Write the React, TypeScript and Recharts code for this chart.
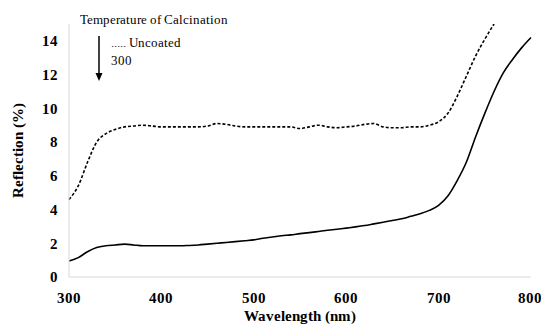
import React from "react";
import { LineChart, Line, XAxis, YAxis, Label } from "recharts";

const wavelengths = [300,310,320,330,340,350,360,370,380,390,400,410,420,430,440,450,460,470,480,490,500,510,520,530,540,550,560,570,580,590,600,610,620,630,640,650,660,670,680,690,700,710,720,730,740,750,760,770,780,790,800];
const uncoated = [4.6,5.4,6.8,8.0,8.5,8.75,8.9,8.95,9.0,8.95,8.9,8.9,8.9,8.9,8.9,8.95,9.1,9.05,8.95,8.9,8.9,8.9,8.9,8.9,8.9,8.8,8.9,9.0,8.9,8.85,8.9,8.95,9.05,9.1,8.9,8.85,8.85,8.9,8.9,9.0,9.2,9.7,10.7,11.9,13.1,14.1,15.0,null,null,null,null];
const calcined300 = [0.95,1.15,1.5,1.75,1.85,1.9,1.95,1.9,1.85,1.85,1.85,1.85,1.85,1.87,1.9,1.95,2.0,2.05,2.1,2.15,2.2,2.3,2.37,2.45,2.5,2.57,2.63,2.7,2.77,2.83,2.9,2.97,3.05,3.15,3.25,3.35,3.45,3.6,3.75,3.95,4.25,4.8,5.7,6.8,8.3,9.7,11.0,12.1,12.9,13.6,14.2];
const xTicks = [300,400,500,600,700,800];
const yTicks = [0,2,4,6,8,10,12,14];

const data = wavelengths.map((w, i) => ({ w, uncoated: uncoated[i], c300: calcined300[i] }));

const FONT = "RefSerif";
const fontCss = `
@font-face{font-family:'RefSerif';src:local('Liberation Serif'),local('LiberationSerif'),local('Times New Roman');font-weight:400;font-display:swap}
@font-face{font-family:'RefSerif';src:local('Liberation Serif Bold'),local('LiberationSerif-Bold'),local('Times New Roman Bold');font-weight:700;font-display:swap}
`;

export default function App() {
  return (
    <div style={{ position: "absolute", left: 0, top: 0 }}>
      <style>{fontCss}</style>
      <LineChart width={541} height={327} data={data} margin={{ top: 24, right: 10, bottom: 0, left: 0 }}>
        <XAxis
          dataKey="w"
          type="number"
          domain={[300, 800]}
          ticks={xTicks}
          tickLine={false}
          axisLine={{ stroke: "#d9d9d9" }}
          tickMargin={9}
          height={50}
          tick={{ fill: "#000", fontFamily: FONT, fontWeight: "bold", fontSize: 15 }}
        >
          <Label value="Wavelength (nm)" position="insideBottom" offset={6} style={{ fill: "#000", fontFamily: FONT, fontWeight: "bold", fontSize: 14.5 }} />
        </XAxis>
        <YAxis
          type="number"
          domain={[0, 15]}
          ticks={yTicks}
          tickLine={false}
          axisLine={{ stroke: "#d9d9d9" }}
          tickMargin={5}
          width={69}
          allowDataOverflow
          tick={{ fill: "#000", fontFamily: FONT, fontWeight: "bold", fontSize: 15 }}
        >
          <Label value="Reflection (%)" angle={-90} position="insideLeft" offset={18} style={{ fill: "#000", fontFamily: FONT, fontWeight: "bold", fontSize: 15, textAnchor: "middle" }} />
        </YAxis>
        <Line type="monotone" dataKey="uncoated" stroke="#000" strokeWidth={1.6} strokeDasharray="3 2" dot={false} isAnimationActive={false} connectNulls={false} />
        <Line type="monotone" dataKey="c300" stroke="#000" strokeWidth={1.6} dot={false} isAnimationActive={false} />
        <text x={80} y={23.5} fontFamily={FONT} fontSize={12.5} fill="#000">Temperature of Calcination</text>
        <line x1={99} y1={36} x2={99} y2={74} stroke="#000" strokeWidth={1.5} />
        <polygon points="95.5,73 102.5,73 99,81" fill="#000" />
        <text x={111} y={47} fontFamily={FONT} fontSize={12.5} fill="#000">..... Uncoated</text>
        <text x={111} y={65} fontFamily={FONT} fontSize={12.5} fill="#000">300</text>
      </LineChart>
    </div>
  );
}
